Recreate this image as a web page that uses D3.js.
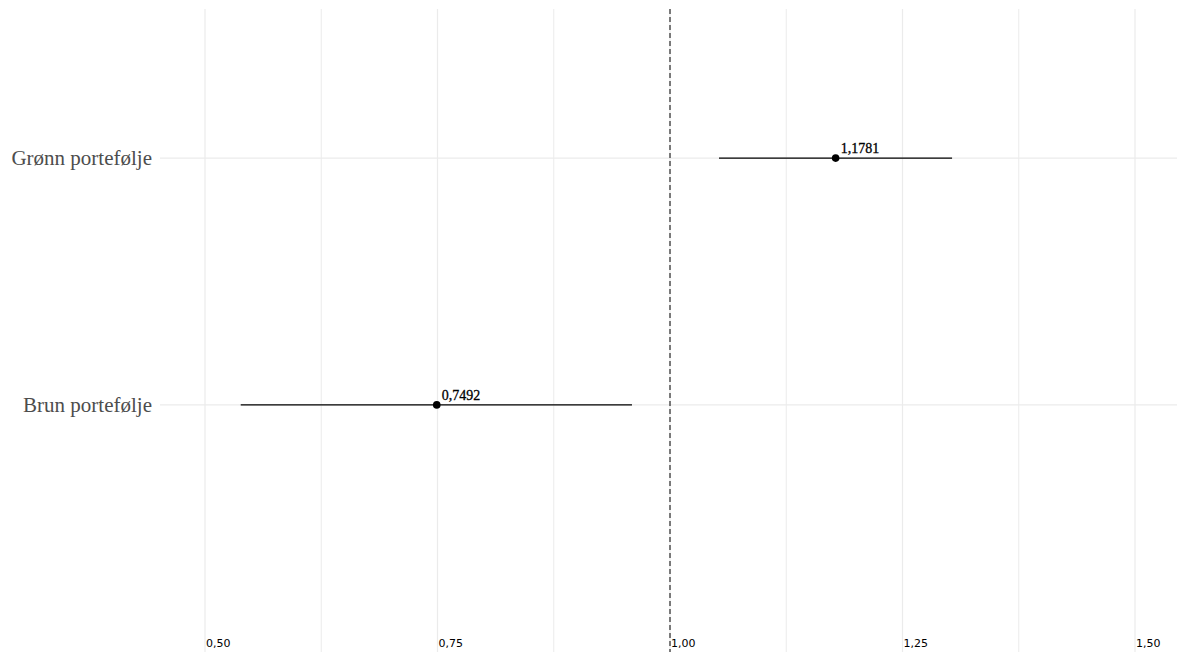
<!DOCTYPE html>
<html>
<head>
<meta charset="utf-8">
<script src="https://cdn.jsdelivr.net/npm/d3@7"></script>
<style>
  body { margin: 0; background: #fff; }
</style>
</head>
<body>
<script>
// portfolio estimates with confidence intervals
var portfolios = ["Grønn portefølje", "Brun portefølje"];
var estimates = [1.1781, 0.7492];
var lowerCI = [1.0527, 0.5384];
var upperCI = [1.3033, 0.9591];
var xTicks = [0.5, 0.75, 1.0, 1.25, 1.5];
var xMinorTicks = [0.625, 0.875, 1.125, 1.375];
var refValue = 1.0;

function init(){
    var w = 1177;
    var h = 652;

    var nb = d3.formatLocale({decimal: ",", thousands: " ", grouping: [3], currency: ["", " kr"]});
    var tickFmt = nb.format(".2f");
    var estFmt = nb.format(".4f");

    var xScale = d3.scaleLinear()
                    .domain([0.5, 1.5])
                    .range([205, 1135]);

    var yScale = d3.scalePoint()
                    .domain(portfolios)
                    .range([10, 553])
                    .padding(0.6);

    var svg = d3.select("body")
                .append("svg")
                .attr("width", w)
                .attr("height", h);

    // grid
    svg.selectAll("line.minor")
        .data(xMinorTicks)
        .enter()
        .append("line")
        .attr("x1", function(d) { return xScale(d); })
        .attr("x2", function(d) { return xScale(d); })
        .attr("y1", 9)
        .attr("y2", h)
        .attr("stroke", "#ebebeb")
        .attr("stroke-width", 1);

    svg.selectAll("line.major")
        .data(xTicks)
        .enter()
        .append("line")
        .attr("x1", function(d) { return xScale(d); })
        .attr("x2", function(d) { return xScale(d); })
        .attr("y1", 9)
        .attr("y2", h)
        .attr("stroke", "#ebebeb")
        .attr("stroke-width", 1.2);

    svg.selectAll("line.hgrid")
        .data(portfolios)
        .enter()
        .append("line")
        .attr("x1", 160)
        .attr("x2", w)
        .attr("y1", function(d) { return yScale(d); })
        .attr("y2", function(d) { return yScale(d); })
        .attr("stroke", "#ebebeb")
        .attr("stroke-width", 1.2);

    // reference line
    svg.append("line")
        .attr("x1", xScale(refValue))
        .attr("x2", xScale(refValue))
        .attr("y1", 9)
        .attr("y2", h)
        .attr("stroke", "#000")
        .attr("stroke-width", 1)
        .attr("stroke-dasharray", "5,3");

    // x tick labels (left aligned at tick)
    svg.selectAll("text.xtick")
        .data(xTicks)
        .enter()
        .append("text")
        .attr("x", function(d) { return xScale(d) + 1; })
        .attr("y", 647)
        .attr("font-family", "DejaVu Sans, sans-serif")
        .attr("font-size", "11px")
        .attr("fill", "#000")
        .text(function(d) { return tickFmt(d); });

    // y labels
    svg.selectAll("text.ylab")
        .data(portfolios)
        .enter()
        .append("text")
        .attr("x", 152)
        .attr("y", function(d) { return yScale(d) + 7; })
        .attr("text-anchor", "end")
        .attr("font-family", "Liberation Serif, serif")
        .attr("font-size", "21px")
        .attr("fill", "#4d4d4d")
        .text(function(d) { return d; });

    // intervals
    svg.selectAll("line.ci")
        .data(portfolios)
        .enter()
        .append("line")
        .attr("x1", function(d, i) { return xScale(lowerCI[i]); })
        .attr("x2", function(d, i) { return xScale(upperCI[i]); })
        .attr("y1", function(d) { return yScale(d); })
        .attr("y2", function(d) { return yScale(d); })
        .attr("stroke", "#000")
        .attr("stroke-width", 1.4);

    svg.selectAll("circle")
        .data(portfolios)
        .enter()
        .append("circle")
        .attr("cx", function(d, i) { return xScale(estimates[i]); })
        .attr("cy", function(d) { return yScale(d); })
        .attr("r", 3.8)
        .attr("fill", "#000");

    svg.selectAll("text.est")
        .data(portfolios)
        .enter()
        .append("text")
        .attr("x", function(d, i) { return xScale(estimates[i]) + 5; })
        .attr("y", function(d) { return yScale(d) - 5; })
        .attr("font-family", "Liberation Serif, serif")
        .attr("font-size", "14px")
        .attr("fill", "#000")
        .attr("stroke", "#000")
        .attr("stroke-width", 0.3)
        .text(function(d, i) { return estFmt(estimates[i]); });
}

window.onload = init;
</script>
</body>
</html>
